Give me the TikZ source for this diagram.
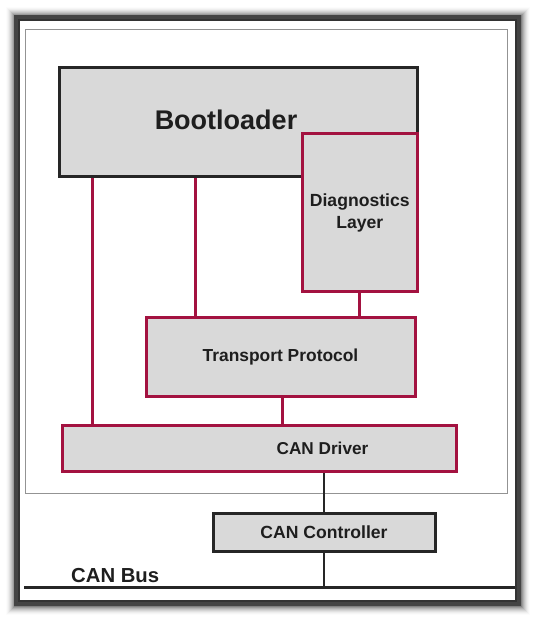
\documentclass[tikz,border=0pt]{standalone}
\usepackage{fontspec}
\setmainfont{Liberation Sans}
\definecolor{crim}{HTML}{A31240}
\definecolor{boxgray}{HTML}{D9D9D9}
\definecolor{txt}{HTML}{1E1E1E}
\definecolor{dk}{HTML}{262626}
\definecolor{framegray}{HTML}{444444}
\tikzset{
  blk/.style={draw=dk, line width=3pt, fill=boxgray, inner sep=0pt, text=txt, font=\bfseries, align=center},
  red/.style={draw=crim, line width=3pt, fill=boxgray, inner sep=0pt, text=txt, font=\bfseries, align=center},
  redline/.style={draw=crim, line width=3pt},
  blkline/.style={draw=dk, line width=2pt}
}
\begin{document}
\begin{tikzpicture}[x=1pt,y=-1pt]
\useasboundingbox (0,0) rectangle (535,619);
\fill[white] (0,0) rectangle (535,619);
% shadowed frame
\foreach \i/\o in {1/0.4,2/0.32,3/0.25,4/0.19,5/0.14,6/0.1,7/0.07,8/0.045,9/0.025,10/0.012}
  \draw[black,opacity=\o,line width=1.2pt] ({17-\i},{18-\i}) rectangle ({519+\i},{604+\i});
\draw[framegray,line width=6pt] (17,18) rectangle (518,603);
\draw[gray!40!black,line width=2pt] (19,20) rectangle (516,601);
\fill[white] (20,21) rectangle (515,600);
% inner thin rectangle
\draw[gray!85,line width=1pt] (25.5,29) rectangle (507.5,493);
% boxes
\node[blk, minimum width=358pt, minimum height=109pt] (boot) at (238.5,122) {};
\node[txt, font=\bfseries\fontsize{27}{32}\selectfont] (boottxt) at (226,120) {Bootloader};
\node[red, minimum width=115.5pt, minimum height=158pt, font=\bfseries\fontsize{17.6}{22}\selectfont] (diag) at (359.75,212.5) {Diagnostics\\Layer};
\node[red, minimum width=269pt, minimum height=79pt, font=\bfseries\fontsize{17.4}{20}\selectfont] (tp) at (280.5,357) {Transport Protocol};
\node[red, minimum width=394pt, minimum height=46pt] (drv) at (259.5,448.5) {};
\node[txt, font=\bfseries\fontsize{17.2}{20}\selectfont] (drvtxt) at (322.5,448) {CAN Driver};
\node[blk, minimum width=222pt, minimum height=38pt, font=\bfseries\fontsize{17.6}{20}\selectfont] (ctl) at (324,532.5) {CAN Controller};
% bus
\coordinate (busl) at (24,587);
\coordinate (busr) at (515,587);
\draw[dk,line width=3pt] (busl) -- (busr);
\node[txt, font=\bfseries\fontsize{20.3}{24}\selectfont, anchor=base west, inner sep=0pt] (bustxt) at (71,582) {CAN Bus};
% connectors
\draw[redline] (boot.south -| 92,0) -- (drv.north -| 92,0);
\draw[redline] (boot.south -| 195,0) -- (tp.north -| 195,0);
\draw[redline] (diag.south -| 359,0) -- (tp.north -| 359,0);
\draw[redline] (tp.south -| 282,0) -- (drv.north -| 282,0);
\draw[blkline] (drv.south -| 324,0) -- (ctl.north -| 324,0);
\draw[blkline] (ctl.south -| 324,0) -- (busl -| 324,0);
\end{tikzpicture}
\end{document}
